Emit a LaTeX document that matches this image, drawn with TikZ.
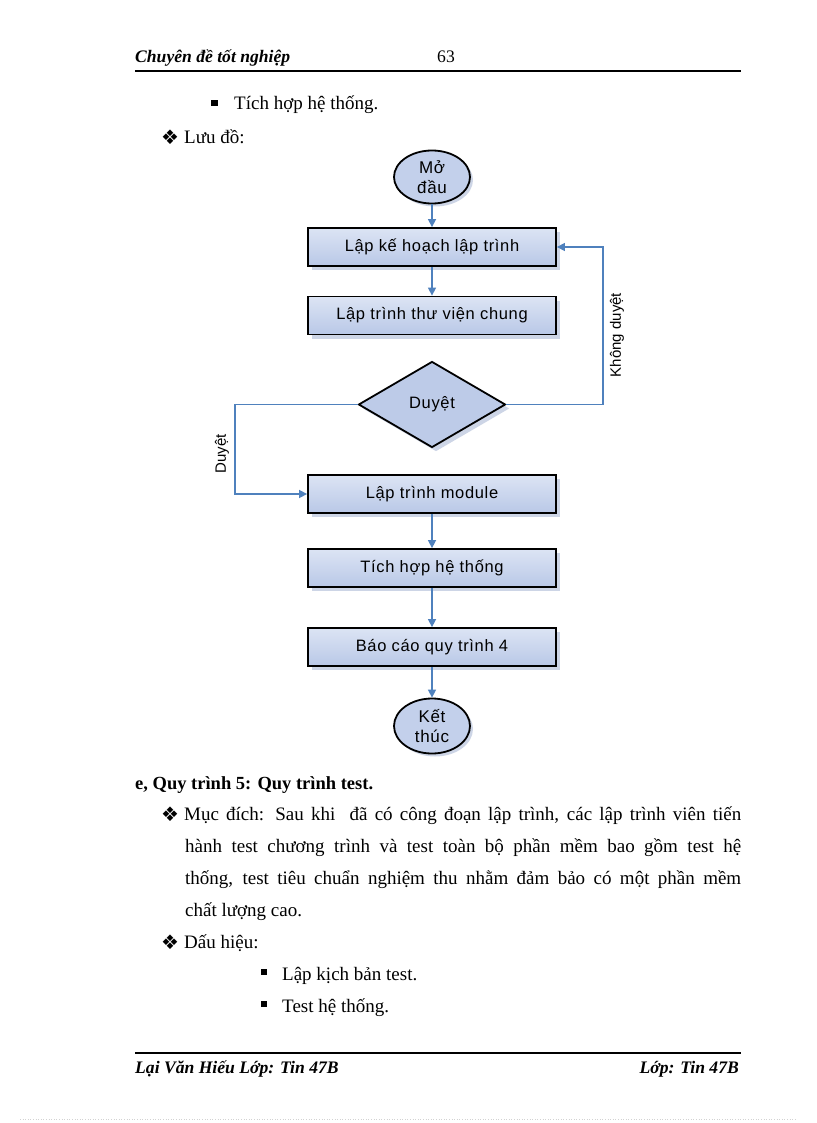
\documentclass[tikz,border=0pt]{standalone}
\usepackage{fontspec}
\setmainfont{Liberation Serif}
\newfontfamily\flow[LetterSpace=4]{Liberation Sans}
\newfontfamily\flowlbl{Liberation Sans}
\newfontfamily\djv{DejaVu Sans}
\usetikzlibrary{shapes.geometric,arrows.meta,shadows}
\definecolor{lineblue}{HTML}{4F81BD}
\definecolor{boxtop}{HTML}{DCE4F4}
\definecolor{boxbot}{HTML}{B9C8E7}
\definecolor{shadowc}{HTML}{CDD5E6}
\begin{document}
\begin{tikzpicture}[x=1pt,y=-1pt,
  body/.style={inner sep=0pt,anchor=base west,font=\fontsize{19}{22}\selectfont},
  hdr/.style={inner sep=0pt,anchor=base west,font=\fontsize{17.6}{20}\selectfont\bfseries\itshape},
  stepbox/.style={draw=black,line width=1.8pt,minimum width=248pt,minimum height=38pt,inner sep=0pt,
    top color=boxtop,bottom color=boxbot,
    drop shadow={shadow xshift=4pt,shadow yshift=-4pt,fill=shadowc,opacity=1},
    font=\flow\fontsize{16.5}{20}\selectfont},
  term/.style={draw=black,line width=1.8pt,ellipse,inner sep=0pt,fill=boxbot!85!white,
    drop shadow={shadow xshift=3pt,shadow yshift=-3pt,fill=shadowc,opacity=1},
    align=center,font=\flow\fontsize{17}{20}\selectfont},
  decide/.style={draw=black,line width=1.8pt,diamond,inner sep=0pt,fill=boxbot!95!white,
    minimum width=147pt,minimum height=86pt,aspect=1.71,
    drop shadow={shadow xshift=4pt,shadow yshift=-4pt,fill=shadowc,opacity=1},
    font=\flow\fontsize{16.5}{20}\selectfont},
  conn/.style={draw=lineblue,line width=1.5pt,-{Triangle[width=8pt,length=8pt]}},
  lbl/.style={inner sep=0pt,rotate=90,font=\flowlbl\fontsize{15}{18}\selectfont},
  sqb/.style={fill=black,minimum size=6.5pt,inner sep=0pt},
  dia/.style={inner sep=0pt,anchor=base west,font=\djv\fontsize{20}{22}\selectfont}
]
\useasboundingbox (0,0) rectangle (816,1123);
\fill[white] (0,0) rectangle (816,1123);

% header
\node[hdr] (htitle) at (135,63) {Chuyên đề tốt nghiệp};
\node[inner sep=0pt,anchor=base west,font=\fontsize{17.6}{20}\selectfont] (hpage) at (437,63) {63};
\draw[line width=2pt] (135,71) coordinate (hl) -- (741,71) coordinate (hr);

% intro bullets
\node[sqb] (bq1) at (214.5,103) {};
\node[body] (t1) at (234,110) {Tích hợp hệ thống.};
\node[dia] (d1) at (161,145) {❖};
\node[body] (t2) at (184,144) {Lưu đồ:};

% flowchart
\node[term,minimum width=76pt,minimum height=53pt] (start) at (432,177) {Mở\\đầu};
\node[stepbox] (b1) at (432,247) {Lập kế hoạch lập trình};
\node[stepbox] (b2) at (432,315.5) {Lập trình thư viện chung};
\node[decide] (dec) at (432,404.5) {Duyệt};
\node[stepbox] (b3) at (432,494) {Lập trình module};
\node[stepbox] (b4) at (432,568) {Tích hợp hệ thống};
\node[stepbox] (b5) at (432,647) {Báo cáo quy trình 4};
\node[term,minimum width=76pt,minimum height=55pt] (stop) at (432,726) {Kết\\thúc};

\draw[conn] (start.south) -- (b1.north);
\draw[conn] (b1.south) -- (b2.north);
\draw[conn] (b3.south) -- (b4.north);
\draw[conn] (b4.south) -- (b5.north);
\draw[conn] (b5.south) -- (stop.north);

\coordinate (rk) at (603,404.5);
\draw[conn] (dec.east) -- (rk) |- (b1.east);
\node[lbl] (lno) at (617,335) {Không duyệt};

\coordinate (lk) at (235,404.5);
\draw[conn] (dec.west) -- (lk) |- (b3.west);
\node[lbl] (lyes) at (222,454) {Duyệt};

% section text
\node[body,font=\fontsize{18.5}{22}\selectfont\bfseries] (sec) at (135,789) {e, Quy trình 5: Quy trình test.};
\node[dia] (d2) at (161,821) {❖};
\node[body] (p1) at (184,820) {\makebox[557pt][s]{Mục đích: Sau khi \ đã có công đoạn lập trình, các lập trình viên tiến}};
\node[body] (p2) at (185,852) {\makebox[556pt][s]{hành test chương trình và test toàn bộ phần mềm bao gồm test hệ}};
\node[body] (p3) at (185,884) {\makebox[556pt][s]{thống, test tiêu chuẩn nghiệm thu nhằm đảm bảo có một phần mềm}};
\node[body] (p4) at (185,916) {chất lượng cao.};
\node[dia] (d3) at (161,949) {❖};
\node[body] (p5) at (184,948) {Dấu hiệu:};
\node[sqb] (bq2) at (264,972) {};
\node[body] (p6) at (282,980) {Lập kịch bản test.};
\node[sqb] (bq3) at (264,1004) {};
\node[body] (p7) at (282,1012) {Test hệ thống.};

% footer
\draw[line width=2pt] (135,1053) coordinate (fl) -- (741,1053) coordinate (fr);
\node[hdr] (fleft) at (135,1073) {Lại Văn Hiếu Lớp: Tin 47B};
\node[hdr,anchor=base east] (fright) at (739,1073) {Lớp: Tin 47B};
\draw[gray!35,line width=0.6pt,dotted] (20,1119) coordinate (dl) -- (795,1119) coordinate (dr);
\end{tikzpicture}
\end{document}
